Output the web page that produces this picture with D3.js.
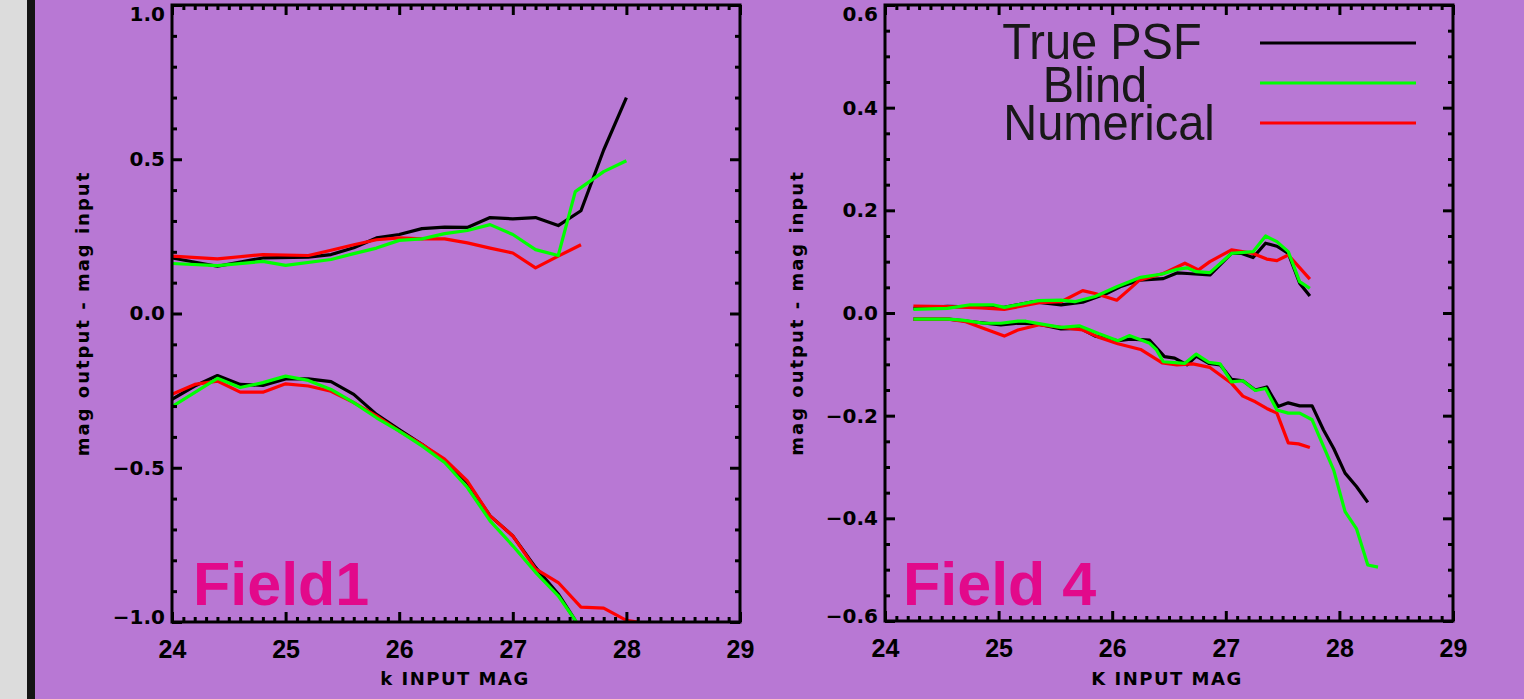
<!DOCTYPE html>
<html>
<head>
<meta charset="utf-8">
<script src="https://cdn.jsdelivr.net/npm/d3@7"></script>
<style>
html,body{margin:0;padding:0;background:#b878d4;}
svg{display:block;}
</style>
</head>
<body>
<svg id="chart" width="1524" height="699"></svg>
<script>
// ---------------- DATA ----------------
const seriesNames = ["True PSF", "Blind", "Numerical"];
const seriesColors = ["#000000", "#00ff00", "#ff0000"];
const xTickLabels = [24, 25, 26, 27, 28, 29];
const yTicksField1 = [-1.0, -0.5, 0.0, 0.5, 1.0];
const yTicksField4 = [-0.6, -0.4, -0.2, 0.0, 0.2, 0.4, 0.6];
const panelTitles = ["Field1", "Field 4"];
const xTitles = ["k INPUT MAG", "K INPUT MAG"];
const yTitle = "mag output - mag input";

// Field 1 (left panel)
const f1TrueUpper = [[24.0,0.18],[24.4,0.153],[24.8,0.18],[25.2,0.183],[25.4,0.191],[25.6,0.213],[25.8,0.245],[26.0,0.256],[26.2,0.275],[26.4,0.28],[26.6,0.279],[26.8,0.311],[27.0,0.307],[27.2,0.311],[27.4,0.285],[27.6,0.333],[27.8,0.53],[28.0,0.70]];
const f1BlindUpper = [[24.0,0.162],[24.4,0.155],[24.8,0.169],[25.0,0.156],[25.4,0.175],[25.6,0.194],[25.8,0.212],[26.0,0.237],[26.2,0.242],[26.4,0.259],[26.6,0.269],[26.8,0.288],[27.0,0.256],[27.2,0.207],[27.4,0.188],[27.55,0.395],[27.8,0.46],[28.0,0.495]];
const f1NumUpper = [[24.0,0.186],[24.4,0.177],[24.8,0.191],[25.2,0.188],[25.4,0.205],[25.6,0.223],[25.8,0.239],[26.0,0.245],[26.2,0.242],[26.4,0.242],[26.6,0.229],[26.8,0.212],[27.0,0.196],[27.2,0.148],[27.4,0.186],[27.6,0.223]];
const f1TrueLower = [[24.0,-0.278],[24.2,-0.235],[24.4,-0.201],[24.6,-0.23],[24.8,-0.233],[25.0,-0.212],[25.2,-0.212],[25.4,-0.221],[25.6,-0.262],[25.8,-0.327],[26.0,-0.376],[26.2,-0.424],[26.4,-0.478],[26.6,-0.548],[26.8,-0.656],[27.0,-0.721],[27.2,-0.823],[27.4,-0.909],[27.55,-0.995]];
const f1BlindLower = [[24.0,-0.302],[24.4,-0.210],[24.6,-0.240],[24.8,-0.224],[25.0,-0.203],[25.2,-0.217],[25.4,-0.246],[25.6,-0.289],[25.8,-0.338],[26.0,-0.381],[26.2,-0.429],[26.4,-0.483],[26.6,-0.564],[26.8,-0.672],[27.0,-0.753],[27.2,-0.839],[27.4,-0.915],[27.56,-1.0]];
const f1NumLower = [[24.0,-0.262],[24.2,-0.23],[24.4,-0.219],[24.6,-0.255],[24.8,-0.255],[25.0,-0.228],[25.2,-0.235],[25.4,-0.252],[25.6,-0.289],[25.8,-0.332],[26.0,-0.381],[26.2,-0.424],[26.4,-0.472],[26.6,-0.543],[26.8,-0.656],[27.0,-0.721],[27.2,-0.828],[27.4,-0.872],[27.6,-0.952],[27.8,-0.955],[28.0,-0.995],[28.1,-1.0]];

// Field 4 (right panel)
const f4TrueUpper = [[24.25,0.009],[24.55,0.013],[24.93,0.011],[25.05,0.011],[25.3,0.022],[25.55,0.016],[25.74,0.021],[25.95,0.038],[26.07,0.051],[26.24,0.064],[26.45,0.067],[26.57,0.078],[26.66,0.077],[26.86,0.074],[27.05,0.116],[27.14,0.116],[27.24,0.108],[27.35,0.136],[27.45,0.13],[27.55,0.116],[27.65,0.058],[27.74,0.033]];
const f4BlindUpper = [[24.25,0.007],[24.55,0.009],[24.75,0.016],[24.95,0.016],[25.05,0.011],[25.35,0.024],[25.55,0.025],[25.67,0.022],[25.85,0.032],[26.04,0.051],[26.25,0.0695],[26.44,0.076],[26.57,0.085],[26.66,0.088],[26.74,0.0805],[26.86,0.0786],[27.05,0.116],[27.24,0.1195],[27.35,0.15],[27.45,0.139],[27.55,0.1195],[27.65,0.061],[27.74,0.048]];
const f4NumUpper = [[24.25,0.0136],[24.55,0.0123],[24.85,0.010],[25.05,0.007],[25.36,0.020],[25.55,0.022],[25.74,0.0435],[25.85,0.038],[26.04,0.025],[26.16,0.048],[26.24,0.064],[26.45,0.077],[26.64,0.097],[26.76,0.084],[26.86,0.100],[27.05,0.123],[27.24,0.116],[27.36,0.105],[27.45,0.102],[27.55,0.113],[27.74,0.066]];
const f4TrueLower = [[24.25,-0.012],[24.56,-0.012],[24.77,-0.017],[25.02,-0.023],[25.17,-0.020],[25.33,-0.021],[25.55,-0.031],[25.72,-0.030],[25.85,-0.045],[26.05,-0.054],[26.16,-0.051],[26.33,-0.053],[26.46,-0.085],[26.55,-0.088],[26.66,-0.101],[26.74,-0.084],[26.85,-0.098],[26.95,-0.101],[27.05,-0.129],[27.15,-0.132],[27.26,-0.150],[27.36,-0.144],[27.46,-0.182],[27.55,-0.175],[27.65,-0.181],[27.76,-0.181],[27.86,-0.228],[27.95,-0.264],[28.05,-0.312],[28.15,-0.338],[28.25,-0.369]];
const f4BlindLower = [[24.25,-0.012],[24.56,-0.012],[24.68,-0.014],[24.87,-0.020],[25.02,-0.020],[25.17,-0.016],[25.24,-0.016],[25.42,-0.023],[25.55,-0.028],[25.71,-0.025],[25.88,-0.040],[26.05,-0.054],[26.15,-0.044],[26.33,-0.059],[26.39,-0.072],[26.45,-0.095],[26.64,-0.098],[26.74,-0.080],[26.85,-0.096],[26.95,-0.099],[27.05,-0.134],[27.15,-0.132],[27.26,-0.151],[27.35,-0.147],[27.45,-0.189],[27.55,-0.195],[27.65,-0.195],[27.76,-0.208],[27.86,-0.260],[27.95,-0.306],[28.05,-0.387],[28.15,-0.420],[28.25,-0.491],[28.34,-0.495]];
const f4NumLower = [[24.25,-0.012],[24.56,-0.012],[24.71,-0.017],[24.87,-0.030],[25.05,-0.045],[25.17,-0.033],[25.36,-0.023],[25.55,-0.028],[25.74,-0.033],[25.88,-0.047],[26.05,-0.060],[26.25,-0.071],[26.44,-0.097],[26.57,-0.101],[26.71,-0.099],[26.86,-0.106],[27.05,-0.137],[27.15,-0.162],[27.26,-0.173],[27.36,-0.186],[27.45,-0.195],[27.55,-0.253],[27.64,-0.255],[27.74,-0.262]];

// ---------------- LAYOUT ----------------
const svg = d3.select("#chart");
svg.append("rect").attr("x",0).attr("y",0).attr("width",1524).attr("height",699).attr("fill","#b878d4");
svg.append("rect").attr("x",0).attr("y",0).attr("width",27).attr("height",699).attr("fill","#dcdcdc");
svg.append("rect").attr("x",27).attr("y",0).attr("width",8).attr("height",699).attr("fill","#141414");

const panels = [
  { left:172, right:740, top:5, bottom:622, yDomain:[-1,1], yTicks:yTicksField1, yMinorStep:0.1,
    series:[[f1TrueUpper,f1TrueLower],[f1BlindUpper,f1BlindLower],[f1NumUpper,f1NumLower]],
    title:panelTitles[0], xTitle:xTitles[0], titleX:193, yTitleX:89, xTitleX:455 },
  { left:885, right:1453, top:5, bottom:621, yDomain:[-0.6,0.6], yTicks:yTicksField4, yMinorStep:0.05,
    series:[[f4TrueUpper,f4TrueLower],[f4BlindUpper,f4BlindLower],[f4NumUpper,f4NumLower]],
    title:panelTitles[1], xTitle:xTitles[1], titleX:903, yTitleX:803, xTitleX:1167 }
];

const fmt = d3.format(".1f");
const drawOrder = [0, 2, 1];

panels.forEach((p, pi) => {
  const x = d3.scaleLinear().domain([24, 29]).range([p.left, p.right]);
  const y = d3.scaleLinear().domain(p.yDomain).range([p.bottom, p.top]);
  const g = svg.append("g");

  const clipId = "clip" + pi;
  svg.append("clipPath").attr("id", clipId).append("rect")
    .attr("x", p.left).attr("y", p.top).attr("width", p.right - p.left).attr("height", p.bottom - p.top);

  // data lines
  const line = d3.line().x(d => x(d[0])).y(d => y(d[1]));
  const lg = g.append("g").attr("clip-path", `url(#${clipId})`);
  drawOrder.forEach(si => {
    p.series[si].forEach(arr => {
      lg.append("path").datum(arr).attr("d", line)
        .attr("fill", "none").attr("stroke", seriesColors[si])
        .attr("stroke-width", 3.2).attr("stroke-linejoin", "round").attr("stroke-linecap", "butt");
    });
  });

  // minor tick values
  const xMinor = d3.range(240, 291, 1).map(v => v / 10).filter(v => !xTickLabels.includes(v));
  const nMinor = Math.round((p.yDomain[1] - p.yDomain[0]) / p.yMinorStep);
  const yMinor = d3.range(0, nMinor + 1).map(i => +(p.yDomain[0] + i * p.yMinorStep).toFixed(3))
    .filter(v => !p.yTicks.some(t => Math.abs(t - v) < 1e-6));

  const styleAxis = sel => {
    sel.select(".domain").remove();
    sel.selectAll("line").attr("stroke", "#000").attr("stroke-width", 3);
  };

  // bottom axis, labelled
  const bx = g.append("g").attr("transform", `translate(0,${p.bottom})`)
    .call(d3.axisBottom(x).tickValues(xTickLabels).tickSize(-10).tickPadding(18).tickFormat(d3.format("d")));
  styleAxis(bx);
  bx.selectAll("text").attr("font-family", "Liberation Sans, Arial, sans-serif")
    .attr("font-weight", "bold").attr("font-size", 25).attr("fill", "#000");
  g.append("g").attr("transform", `translate(0,${p.bottom})`)
    .call(d3.axisBottom(x).tickValues(xMinor).tickSize(-5).tickFormat("")).call(styleAxis);
  // top axis
  g.append("g").attr("transform", `translate(0,${p.top})`)
    .call(d3.axisTop(x).tickValues(xTickLabels).tickSize(-10).tickFormat("")).call(styleAxis);
  g.append("g").attr("transform", `translate(0,${p.top})`)
    .call(d3.axisTop(x).tickValues(xMinor).tickSize(-5).tickFormat("")).call(styleAxis);

  // left axis, labelled
  const ly = g.append("g").attr("transform", `translate(${p.left},0)`)
    .call(d3.axisLeft(y).tickValues(p.yTicks).tickSize(-10).tickPadding(7).tickFormat(fmt));
  styleAxis(ly);
  ly.selectAll("text").attr("font-family", "DejaVu Sans, sans-serif")
    .attr("font-weight", "bold").attr("font-size", 20).attr("fill", "#000");
  // keep the extreme labels inside the picture, like the original
  ly.selectAll(".tick").filter(d => d === p.yDomain[1]).select("text").attr("y", 9);
  ly.selectAll(".tick").filter(d => d === p.yDomain[0]).select("text").attr("y", -5);
  g.append("g").attr("transform", `translate(${p.left},0)`)
    .call(d3.axisLeft(y).tickValues(yMinor).tickSize(-5).tickFormat("")).call(styleAxis);
  // right axis
  g.append("g").attr("transform", `translate(${p.right},0)`)
    .call(d3.axisRight(y).tickValues(p.yTicks).tickSize(-10).tickFormat("")).call(styleAxis);
  g.append("g").attr("transform", `translate(${p.right},0)`)
    .call(d3.axisRight(y).tickValues(yMinor).tickSize(-5).tickFormat("")).call(styleAxis);

  // frame
  g.append("rect").attr("x", p.left).attr("y", p.top)
    .attr("width", p.right - p.left).attr("height", p.bottom - p.top)
    .attr("fill", "none").attr("stroke", "#000").attr("stroke-width", 3);

  // axis titles
  g.append("text").attr("x", p.xTitleX).attr("y", 685).attr("text-anchor", "middle")
    .attr("font-family", "DejaVu Sans, sans-serif").attr("font-weight", "bold")
    .attr("font-size", 18).attr("letter-spacing", 1.5).attr("fill", "#000").text(p.xTitle);
  g.append("text").attr("transform", `translate(${p.yTitleX},${(p.top + p.bottom) / 2}) rotate(-90)`)
    .attr("text-anchor", "middle")
    .attr("font-family", "DejaVu Sans, sans-serif").attr("font-weight", "bold")
    .attr("font-size", 18).attr("letter-spacing", 2).attr("fill", "#000").text(yTitle);

  // field label
  g.append("text").attr("x", p.titleX).attr("y", 605)
    .attr("font-family", "Liberation Sans, Arial, sans-serif").attr("font-weight", "bold")
    .attr("font-size", 61).attr("fill", "#e2098b").text(p.title);
});

// legend (right panel)
const legendLayout = [
  { cx: 1102, base: 59, ly: 43 },
  { cx: 1095, base: 102, ly: 83 },
  { cx: 1109, base: 140, ly: 123 }
];
const leg = svg.append("g");
seriesNames.forEach((name, i) => {
  const L = legendLayout[i];
  leg.append("text").attr("transform", `translate(${L.cx},${L.base}) scale(0.94,1)`)
    .attr("text-anchor", "middle")
    .attr("font-family", "Liberation Sans, Arial, sans-serif")
    .attr("font-size", 50).attr("fill", "#181818").text(name);
  leg.append("line").attr("x1", 1260).attr("x2", 1416).attr("y1", L.ly).attr("y2", L.ly)
    .attr("stroke", seriesColors[i]).attr("stroke-width", 3.2);
});
</script>
</body>
</html>
